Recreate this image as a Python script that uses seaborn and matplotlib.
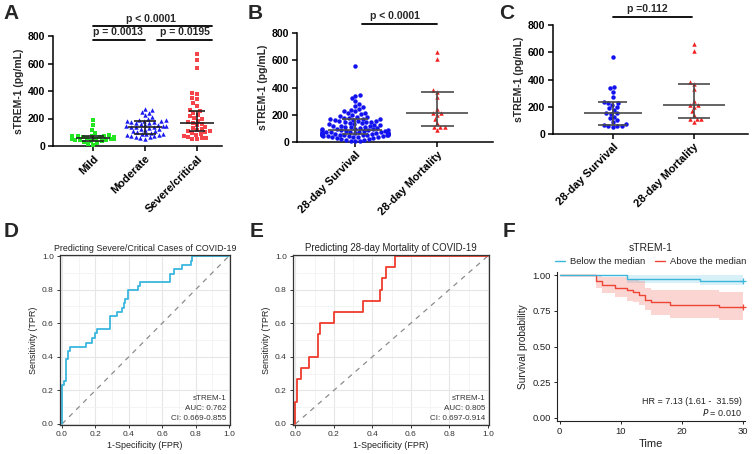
import numpy as np
import pandas as pd
import matplotlib.pyplot as plt
from matplotlib.lines import Line2D
from matplotlib.ticker import MultipleLocator
import seaborn as sns

sns.set_theme(style="ticks")
plt.rcParams['font.family'] = ['Liberation Sans', 'DejaVu Sans']

# ---- datos panel A (sTREM-1 segun gravedad)
grupos_a = ["Mild", "Moderate", "Severe/critical"]
mild = [190, 152, 120, 95, 80, 76, 74, 72, 70, 68, 66, 65, 63, 62, 61, 60, 59, 58, 57,
        56, 55, 55, 54, 53, 52, 50, 49, 48, 46, 44, 42, 40, 35, 30, 22, 15, 10]
moderate = [272, 262, 250, 238, 225, 210, 200, 192, 186, 183, 181, 179, 176, 172, 168,
            164, 160, 156, 152, 148, 145, 142, 140, 138, 135, 131, 127, 122, 117, 112,
            106, 100, 95, 90, 87, 85, 82, 78, 74, 70, 66, 62, 58, 54]
severe = [668, 622, 565, 383, 376, 347, 340, 310, 290, 262, 255, 240, 228, 215, 205,
          195, 182, 172, 165, 158, 150, 140, 130, 122, 115, 110, 106, 100, 95, 88, 80,
          72, 66, 60, 56, 52, 48]
med_a = [55, 141, 165]
q1_a = [40, 86, 111]
q3_a = [72, 182, 257]
p_a = ["p < 0.0001", "p = 0.0013", "p = 0.0195"]

# ---- datos paneles B y C (supervivencia a 28 dias)
grupos_bc = ["28-day Survival", "28-day Mortality"]
surv_b = [560, 345, 338, 320, 300, 282, 265, 255, 245, 238, 230, 224, 216, 210, 204,
          198, 192, 186, 181, 177, 174, 171, 168, 166, 163, 160, 157, 154, 152, 150,
          146, 144, 141, 136, 134, 131, 128, 126, 121, 118, 116, 113, 111, 108, 106,
          102, 99, 95, 96, 93, 91, 89, 87, 85, 83, 81, 79, 77, 75, 74, 72, 71, 70, 68,
          67, 66, 65, 63, 62, 61, 60, 60, 58, 58, 56, 55, 55, 53, 52, 51, 50, 49, 48,
          46, 44, 43, 41, 40, 38, 36, 34, 31, 28, 25, 21, 17, 13, 10, 7, 4]
surv_c = [563, 345, 335, 310, 272, 238, 230, 225, 215, 200, 190, 175, 155, 152, 148,
          125, 115, 100, 90, 75, 66, 62, 60, 58, 55]
mort = [662, 612, 378, 365, 330, 245, 215, 213, 200, 170, 140, 112, 110, 108, 85]
med_b = [91, 213]
q1_b = [58, 115]
q3_b = [167, 368]
med_c = [152, 213]
q1_c = [66, 115]
q3_c = [233, 368]

# ---- curvas ROC
d_fpr = [0, 0, 0.01, 0.025, 0.035, 0.045, 0.145, 0.18, 0.195, 0.21, 0.29, 0.33, 0.36,
         0.37, 0.38, 0.395, 0.455, 0.47, 0.645, 0.67, 0.72, 0.77, 0.78, 1.0]
d_tpr = [0, 0.23, 0.255, 0.385, 0.435, 0.46, 0.485, 0.51, 0.54, 0.565, 0.64, 0.665,
         0.69, 0.72, 0.745, 0.795, 0.82, 0.845, 0.895, 0.92, 0.945, 0.97, 1.0, 1.0]
e_fpr = [0, 0, 0.01, 0.03, 0.07, 0.12, 0.13, 0.2, 0.35, 0.44, 0.45, 0.47, 0.52, 1.0]
e_tpr = [0, 0.133, 0.267, 0.333, 0.4, 0.533, 0.6, 0.667, 0.733, 0.8, 0.867, 0.933, 1.0, 1.0]

# ---- Kaplan-Meier
t_bajo = [0, 11, 23, 30]
s_bajo = [1.0, 0.977, 0.96, 0.96]
lo_bajo = [1.0, 0.945, 0.93, 0.93]
hi_bajo = [1.0, 1.0, 1.0, 1.0]
t_alto = [0, 6, 7, 9, 11, 12, 13, 14, 15, 18, 26, 30]
s_alto = [1.0, 0.963, 0.93, 0.91, 0.895, 0.88, 0.86, 0.825, 0.81, 0.79, 0.775, 0.775]
lo_alto = [1.0, 0.91, 0.875, 0.85, 0.82, 0.81, 0.79, 0.755, 0.72, 0.70, 0.685, 0.685]
hi_alto = [1.0, 1.0, 0.99, 0.985, 0.975, 0.97, 0.96, 0.91, 0.90, 0.895, 0.885, 0.885]

W, H = 752, 454
fig = plt.figure(figsize=(W / 100, H / 100), dpi=100)


def caja(x0, x1, y0, y1):
    # convierte pixeles (arriba-izquierda) a fracciones de figura
    return [x0 / W, 1 - y1 / H, (x1 - x0) / W, (y1 - y0) / H]


def panel_puntos(ax, grupos, valores, colores, marcadores, med, q1, q3, a_med, a_q, c_barra, xlim):
    for i, g in enumerate(grupos):
        df = pd.DataFrame({"grupo": g, "valor": valores[i]})
        sns.swarmplot(data=df, x="grupo", y="valor", order=grupos, color=colores[i],
                      marker=marcadores[i], size=3.2, linewidth=0, ax=ax, warn_thresh=1)
    for c in ax.collections:
        c.set_clip_on(False)
    x = np.arange(len(grupos))
    a_med = np.array(a_med)
    a_q = np.array(a_q)
    ax.hlines(med, x - a_med, x + a_med, color=c_barra, lw=1.2, zorder=5)
    ax.hlines(q1, x - a_q, x + a_q, color=c_barra, lw=1.2, zorder=5)
    ax.hlines(q3, x - a_q, x + a_q, color=c_barra, lw=1.2, zorder=5)
    ax.vlines(x, q1, q3, color=c_barra, lw=1.2, zorder=5)
    ax.set_ylim(0, 800)
    ax.set_xlim(*xlim)
    ax.set_yticks([0, 200, 400, 600, 800])
    ax.set_xticks(x)
    ax.set_xticklabels(grupos, rotation=45, ha='right', rotation_mode='anchor',
                       fontsize=8, fontweight='bold')
    for lab in ax.get_yticklabels():
        lab.set_fontweight('bold')
        lab.set_fontsize(7.5)
    ax.set_xlabel("")
    ax.set_ylabel("sTREM-1 (pg/mL)", fontsize=7.5, fontweight='bold', labelpad=3)
    sns.despine(ax=ax)
    for s in ['left', 'bottom']:
        ax.spines[s].set_linewidth(1.1)
        ax.spines[s].set_color('black')
    ax.tick_params(width=1.1, length=3.5, colors='black', pad=2)


def barra_p(ax, x0, x1, y, texto, xt, yt):
    ax.plot([x0, x1], [y, y], color='black', lw=1.3, clip_on=False)
    ax.text(xt, yt, texto, ha='center', va='bottom', fontsize=7.5, fontweight='bold')


# ---- A
axA = fig.add_axes(caja(53, 222, 36, 146))
panel_puntos(axA, grupos_a, [mild, moderate, severe], ["#22E622", "#1A1AF0", "#F5454B"],
             ['s', '^', 's'], med_a, q1_a, q3_a, [0.33, 0.33, 0.33], [0.22, 0.22, 0.15],
             "#222222", (-0.77, 2.48))
barra_p(axA, 0, 2.29, 873, p_a[0], 1.12, 890)
barra_p(axA, 0, 1.0, 771, p_a[1], 0.48, 790)
barra_p(axA, 1.23, 2.29, 771, p_a[2], 1.77, 790)

# ---- B
axB = fig.add_axes(caja(297, 493, 33, 142))
panel_puntos(axB, grupos_bc, [surv_b, mort], ["#1212EE", "#F01E1E"], ['o', '^'],
             med_b, q1_b, q3_b, [0.33, 0.38], [0.16, 0.2], "#4A4A4A", (-0.71, 1.68))
barra_p(axB, 0.085, 1.0, 865, "p < 0.0001", 0.49, 885)

# ---- C
axC = fig.add_axes(caja(553, 748, 25, 134))
panel_puntos(axC, grupos_bc, [surv_c, mort], ["#1212EE", "#F01E1E"], ['o', '^'],
             med_c, q1_c, q3_c, [0.36, 0.38], [0.18, 0.2], "#4A4A4A", (-0.74, 1.67))
barra_p(axC, 0.0, 0.98, 859, "p =0.112", 0.43, 880)


# ---- D y E: curvas ROC
def panel_roc(ax, fpr, tpr, color, titulo, auc, ci, tam_titulo):
    ax.set_facecolor('white')
    ax.xaxis.set_major_locator(MultipleLocator(0.2))
    ax.yaxis.set_major_locator(MultipleLocator(0.2))
    ax.xaxis.set_minor_locator(MultipleLocator(0.1))
    ax.yaxis.set_minor_locator(MultipleLocator(0.1))
    ax.grid(True, which='major', color='#E6E6E6', lw=0.8)
    ax.grid(True, which='minor', color='#F3F3F3', lw=0.6)
    ax.set_axisbelow(True)
    ax.plot([0, 1], [0, 1], ls=(0, (4, 4)), color='#8C8C8C', lw=0.9)
    sns.lineplot(x=fpr, y=tpr, drawstyle='steps-post', sort=False, estimator=None,
                 color=color, lw=1.3, ax=ax)
    ax.set_xlim(-0.012, 1.006)
    ax.set_ylim(-0.006, 1.006)
    for s in ax.spines.values():
        s.set_color('#333333')
        s.set_linewidth(0.9)
    ax.tick_params(which='major', length=2.5, width=0.7, labelsize=6, colors='#333333', pad=2)
    ax.tick_params(which='minor', length=0)
    ax.set_xlabel("1-Specificity (FPR)", fontsize=6.5, color='#222222', labelpad=2)
    ax.set_ylabel("Sensitivity (TPR)", fontsize=6.5, color='#222222', labelpad=3)
    ax.set_title(titulo, fontsize=tam_titulo, color='#222222', pad=3)
    ax.text(0.98, 0.02, "sTREM-1\nAUC: " + auc + "\nCI: " + ci, ha='right', va='bottom',
            fontsize=5.8, color='#333333', linespacing=1.6, transform=ax.transAxes)


axD = fig.add_axes(caja(60, 230, 255, 425))
panel_roc(axD, d_fpr, d_tpr, "#3AB6DE", "Predicting Severe/Critical Cases of COVID-19",
          "0.762", "0.669-0.855", 6.4)
axE = fig.add_axes(caja(293, 489, 255, 425))
panel_roc(axE, e_fpr, e_tpr, "#EF3B2C", "Predicting 28-day Mortality of COVID-19",
          "0.805", "0.697-0.914", 6.9)

# ---- F: Kaplan-Meier
axF = fig.add_axes(caja(557, 745, 272, 421))
c_bajo, c_alto = "#3DB6DC", "#EE4434"
axF.fill_between(t_bajo, lo_bajo, hi_bajo, step='post', color=c_bajo, alpha=0.2, lw=0)
axF.fill_between(t_alto, lo_alto, hi_alto, step='post', color=c_alto, alpha=0.22, lw=0)
sns.lineplot(x=t_alto, y=s_alto, drawstyle='steps-post', sort=False, estimator=None,
             color=c_alto, lw=1.0, ax=axF)
sns.lineplot(x=t_bajo, y=s_bajo, drawstyle='steps-post', sort=False, estimator=None,
             color=c_bajo, lw=1.0, ax=axF)
axF.plot([t_bajo[-1]], [s_bajo[-1]], marker='+', color=c_bajo, ms=5, mew=0.9, clip_on=False)
axF.plot([t_alto[-1]], [s_alto[-1]], marker='+', color=c_alto, ms=5, mew=0.9, clip_on=False)
axF.set_xlim(-0.42, 30.3)
axF.set_ylim(-0.023, 1.023)
axF.set_xticks([0, 10, 20, 30])
axF.set_yticks([0, 0.25, 0.5, 0.75, 1.0])
axF.set_yticklabels(["0.00", "0.25", "0.50", "0.75", "1.00"])
sns.despine(ax=axF)
for s in ['left', 'bottom']:
    axF.spines[s].set_color('#222222')
    axF.spines[s].set_linewidth(0.8)
axF.tick_params(length=2.5, width=0.7, labelsize=6.8, colors='#222222', pad=2)
axF.set_xlabel("Time", fontsize=8, color='#222222', labelpad=2)
axF.set_ylabel("Survival probability", fontsize=7.3, color='#222222', labelpad=3)
axF.set_title("sTREM-1", fontsize=7.5, color='#222222', pad=15)
handles = [Line2D([], [], color=c_bajo, lw=1.0), Line2D([], [], color=c_alto, lw=1.0)]
axF.legend(handles, ["Below the median", "Above the median"], loc='lower center',
           bbox_to_anchor=(0.5, 1.0), ncol=2, frameon=False, fontsize=6.8,
           handlelength=1.0, handletextpad=0.6, columnspacing=1.0, borderaxespad=0.2)
axF.text(29.8, 0.112, "HR = 7.13 (1.61 -  31.59)", ha='right', va='center', fontsize=6.5,
         color='#222222')
axF.text(29.8, 0.038, "$\\it{P}$ = 0.010", ha='right', va='center', fontsize=6.5,
         color='#222222')

# ---- letras de los paneles
for letra, x, y in [("A", 3, 4), ("B", 248, 4), ("C", 499, 4),
                    ("D", 4, 222), ("E", 250, 222), ("F", 503, 222)]:
    fig.text(x / W, 1 - y / H, letra, fontsize=15, fontweight='bold', va='top', ha='left')

fig.savefig("out.png", dpi=100)
